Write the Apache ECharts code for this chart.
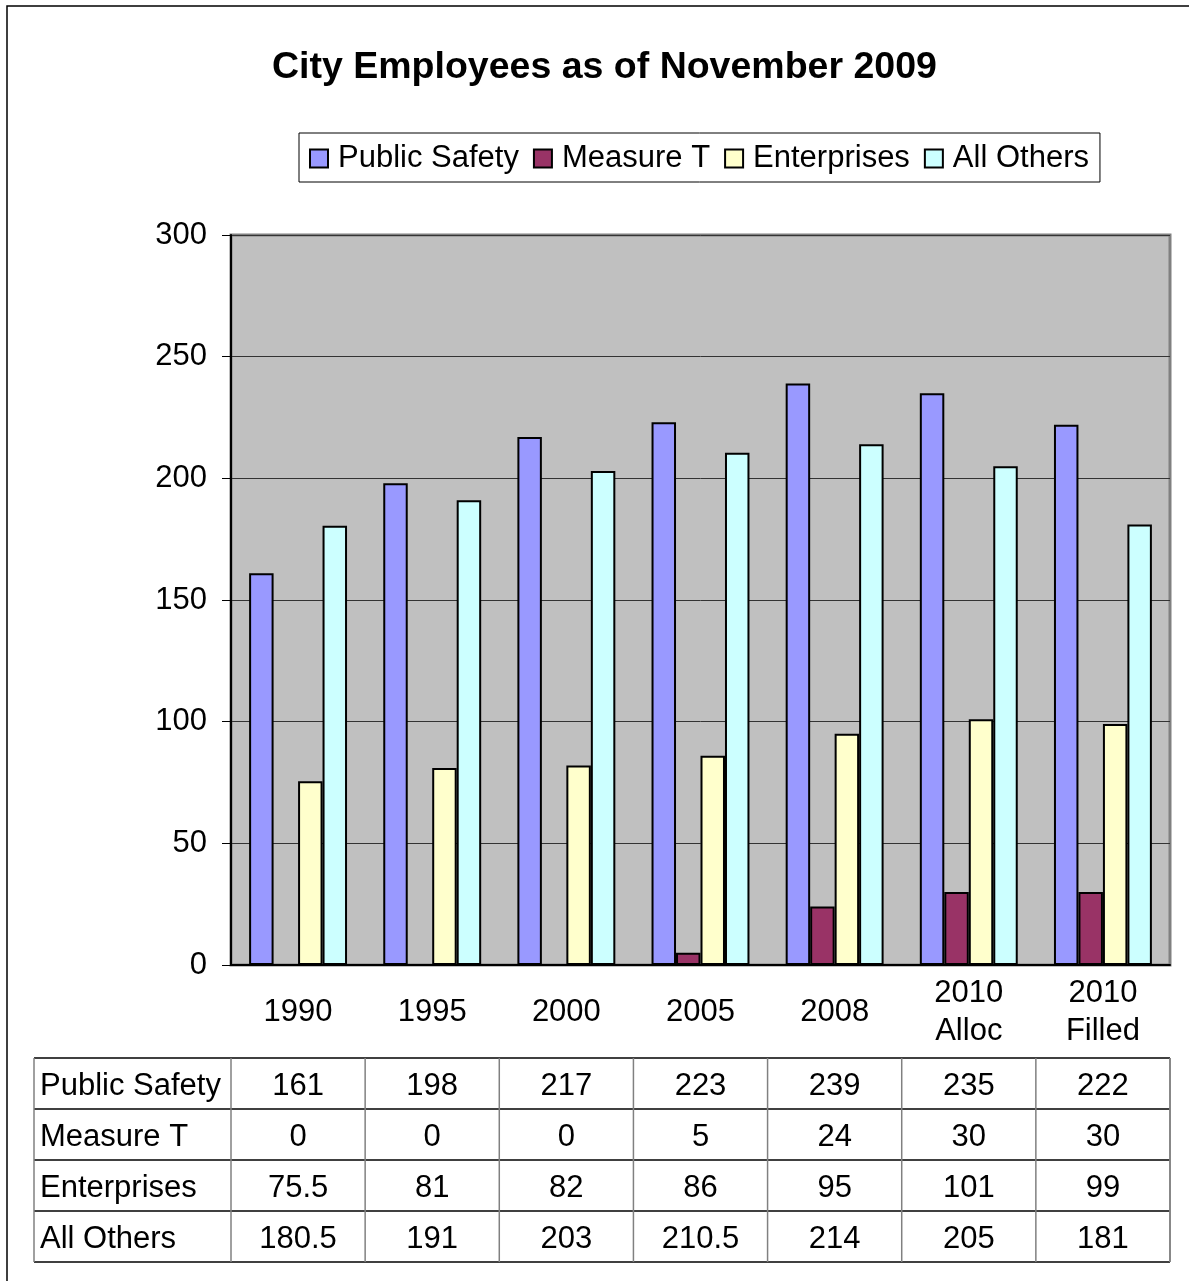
<!DOCTYPE html>
<html>
<head>
<meta charset="utf-8">
<script src="https://cdn.jsdelivr.net/npm/echarts@6/dist/echarts.min.js"></script>
<style>
  html, body { margin: 0; padding: 0; background: #fff; }
  #chart { width: 1189px; height: 1281px; }
</style>
</head>
<body>
<div id="chart"></div>
<script>
// data
const categories = ['1990', '1995', '2000', '2005', '2008', '2010\nAlloc', '2010\nFilled']
const seriesNames = ['Public Safety', 'Measure T', 'Enterprises', 'All Others']
const publicSafety = [161, 198, 217, 223, 239, 235, 222]
const measureT = [0, 0, 0, 5, 24, 30, 30]
const enterprises = [75.5, 81, 82, 86, 95, 101, 99]
const allOthers = [180.5, 191, 203, 210.5, 214, 205, 181]
const colors = ['#9999FF', '#993366', '#FFFFCC', '#CCFFFF']

const font = '"Liberation Sans", Arial, sans-serif'
const fs = 31
const W = 1189
const H = 1281
const gridLeft = 231
const gridRight = 19
const gridTop = 235
const gridBottom = 316
const headerH = 93
const rowH = 51
const tableLeft = 34

const chart = echarts.init(document.getElementById('chart'))
const rows = [publicSafety, measureT, enterprises, allOthers]

// data table below the axis
function buildTable() {
  const els = []
  const x0 = gridLeft
  const x1 = W - gridRight
  const colW = (x1 - x0) / categories.length
  const yTop = H - gridBottom + headerH
  // horizontal lines
  for (let r = 0; r <= rows.length; r++) {
    const y = yTop + r * rowH
    els.push({
      type: 'line',
      shape: { x1: tableLeft, y1: y, x2: x1, y2: y },
      style: { stroke: '#000', lineWidth: 1.5 }
    })
  }
  // vertical lines
  const vx = [tableLeft, x1]
  vx.forEach(function(x) {
    els.push({
      type: 'line',
      shape: { x1: x, y1: yTop, x2: x, y2: yTop + rows.length * rowH },
      style: { stroke: '#808080', lineWidth: 1.5 }
    })
  })
  for (let c = 0; c <= categories.length; c++) {
    const x = x0 + c * colW
    els.push({
      type: 'line',
      shape: { x1: x, y1: yTop, x2: x, y2: yTop + rows.length * rowH },
      style: { stroke: '#808080', lineWidth: 1.5 }
    })
  }
  rows.forEach(function(vals, r) {
    const cy = yTop + r * rowH + rowH / 2 + 3
    els.push({
      type: 'text',
      x: tableLeft + 6,
      y: cy,
      style: {
        text: seriesNames[r], fill: '#000', font: fs + 'px ' + font,
        align: 'left', verticalAlign: 'middle'
      }
    })
    vals.forEach(function(v, c) {
      els.push({
        type: 'text',
        x: x0 + c * colW + colW / 2,
        y: cy,
        style: {
          text: String(v), fill: '#000', font: fs + 'px ' + font,
          align: 'center', verticalAlign: 'middle'
        }
      })
    })
  })
  // outer frame
  els.push({
    type: 'rect',
    shape: { x: 7, y: 6, width: W + 20, height: H + 20 },
    style: { fill: 'none', stroke: '#000', lineWidth: 1.5 },
    z: 100
  })
  return els
}

chart.setOption({
  color: colors,
  animation: false,
  textStyle: { fontFamily: font },
  title: {
    text: 'City Employees as of November 2009',
    left: 267,
    top: 44,
    textStyle: { fontSize: 37.5, fontWeight: 'bold', color: '#000', fontFamily: font }
  },
  legend: {
    data: seriesNames,
    top: 133,
    left: 299,
    itemGap: 14,
    itemWidth: 18,
    itemHeight: 18,
    padding: [10, 11, 8, 10],
    borderColor: '#000',
    borderWidth: 1,
    icon: 'rect',
    itemStyle: { borderColor: '#000', borderWidth: 2 },
    textStyle: { fontSize: fs, color: '#000', padding: [0, 0, 0, 5] }
  },
  grid: {
    left: gridLeft,
    right: gridRight,
    top: gridTop,
    bottom: gridBottom,
    show: true,
    backgroundColor: '#C0C0C0',
    borderColor: '#808080',
    borderWidth: 3
  },
  xAxis: {
    type: 'category',
    data: categories,
    axisLine: { lineStyle: { color: '#000', width: 2 } },
    axisTick: { length: headerH, lineStyle: { color: '#808080', width: 1.5 } },
    axisLabel: {
      fontSize: fs, color: '#000', margin: 47, lineHeight: 38,
      verticalAlign: 'middle', interval: 0
    }
  },
  yAxis: {
    type: 'value',
    min: 0,
    max: 300,
    interval: 50,
    axisLine: { show: true, lineStyle: { color: '#000', width: 2 } },
    axisTick: { show: true, length: 9, lineStyle: { color: '#000' } },
    axisLabel: { fontSize: fs, color: '#000', margin: 24 },
    splitLine: { lineStyle: { color: '#333', width: 1 } }
  },
  series: seriesNames.map(function(name, i) {
    return {
      name: name,
      type: 'bar',
      data: rows[i],
      barGap: '0%',
      barCategoryGap: '27%',
      itemStyle: { borderColor: '#000', borderWidth: 2 }
    }
  }),
  graphic: buildTable()
})
</script>
</body>
</html>
